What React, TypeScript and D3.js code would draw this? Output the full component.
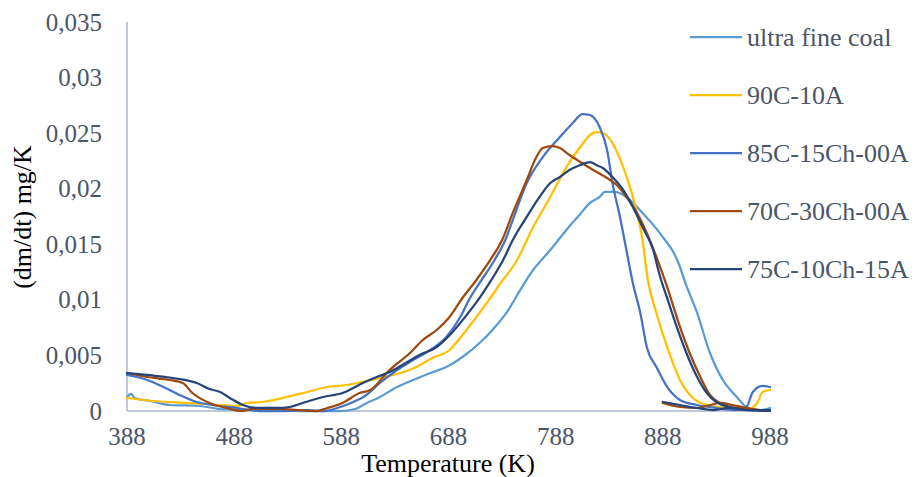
import React from "react";
import * as d3 from "d3";

// ---- data ----
const xTicks = [388, 488, 588, 688, 788, 888, 988];
const yTicks = [0, 0.005, 0.01, 0.015, 0.02, 0.025, 0.03, 0.035];
const yTickLabels = ["0", "0,005", "0,01", "0,015", "0,02", "0,025", "0,03", "0,035"];

const seriesNames = ["ultra fine coal", "90C-10A", "85C-15Ch-00A", "70C-30Ch-00A", "75C-10Ch-15A"];
const seriesColors = ["#5B9BD5", "#FFC000", "#4472C4", "#9E480E", "#264478"];

const ufcT = [388,392,395,410,428,456,475,512,549,587,601,610,624,640,655,671,686,701,717,729,742,755,767,783,798,811,820,829,834,843,854,869,885,904,908,920,932,944,957,966,971,980,988];
const ufcV = [0.00126,0.00153,0.00117,0.0009,0.00054,0.00045,0.00018,0.00009,0,0,0.00018,0.00063,0.00126,0.00216,0.00279,0.00342,0.00396,0.00486,0.00612,0.00729,0.00882,0.01089,0.01269,0.01449,0.01629,0.01773,0.01872,0.01926,0.01971,0.01971,0.01926,0.01782,0.01602,0.01296,0.01179,0.00882,0.00522,0.00279,0.00126,0.00036,0.00018,0.00009,0.00027];

const yelT = [388,412,444,475,491,500,515,537,556,575,593,603,624,643,658,673,689,701,714,727,736,752,767,783,798,811,820,826,832,841,851,860,869,874,882,892,904,916,929,950,966,976,981,988];
const yelV = [0.00117,0.0009,0.00072,0.00054,0.00045,0.00072,0.00081,0.00126,0.00171,0.00216,0.00234,0.00252,0.00297,0.00342,0.00396,0.00477,0.00549,0.00684,0.00846,0.01017,0.01143,0.01359,0.01656,0.01926,0.02195,0.02375,0.02483,0.0251,0.02501,0.02411,0.02195,0.01926,0.01539,0.01179,0.00882,0.00576,0.00279,0.00117,0.00054,0.00027,0.00009,0.00072,0.00171,0.00189];

const bluT = [388,407,422,437,453,468,491,512,537,556,571,587,599,610,624,640,655,671,686,699,708,717,731,741,748,761,776,792,804,813,820,829,836,841,848,854,860,867,873,882,892,904,920,938,957,966,972,981,988];
const bluV = [0.00324,0.00279,0.00216,0.00144,0.00081,0.00054,0.00027,0,0,0.00009,0,0.00036,0.00081,0.00135,0.00252,0.00369,0.00459,0.00549,0.00666,0.00846,0.01017,0.01152,0.01359,0.01539,0.01719,0.02051,0.02285,0.02465,0.02591,0.02672,0.02663,0.02555,0.02348,0.02051,0.01746,0.01449,0.01152,0.00882,0.00576,0.00396,0.00216,0.00099,0.00054,0.00027,0.00009,0.00036,0.00171,0.00225,0.00216];

const brnT = [388,407,428,440,449,465,481,496,505,531,547,565,575,589,605,615,633,652,664,677,689,701,714,727,738,748,761,770,776,785,792,801,811,823,836,845,854,864,873,882,892,904,913,923,932,941,951,963,976,988];
const brnV = [0.00342,0.00306,0.00279,0.00252,0.00162,0.00072,0.00027,0,0.00018,0.00018,0.00009,0,0.00027,0.00072,0.00162,0.00189,0.00369,0.00522,0.00639,0.00729,0.00846,0.01017,0.01179,0.01359,0.01539,0.01782,0.02078,0.02285,0.02366,0.02384,0.02366,0.02303,0.0224,0.02168,0.02096,0.02033,0.01926,0.01782,0.01602,0.01386,0.01116,0.00756,0.00522,0.00306,0.00144,0.00072,0.00036,0.00027,0.00009,0.00009];
const brnTailT = [888,904,920,932,941,953,966,979,988];
const brnTailV = [0.00072,0.00036,0.00027,0.00054,0.00072,0.00054,0.00027,0.00009,0];

const navT = [388,407,437,453,465,475,484,496,509,528,540,552,571,589,608,621,633,645,661,677,691,705,717,728,739,748,761,773,783,792,801,811,820,826,832,841,851,860,869,879,885,892,901,910,920,929,938,950,966,988];
const navV = [0.00342,0.00324,0.00288,0.00252,0.00198,0.00171,0.00117,0.00054,0.00027,0.00027,0.00036,0.00072,0.00126,0.00162,0.00252,0.00306,0.0035,0.00414,0.00504,0.00576,0.00702,0.00864,0.01017,0.01179,0.01359,0.01539,0.01746,0.01926,0.02051,0.02105,0.02168,0.02213,0.0224,0.02213,0.02186,0.02105,0.01989,0.01836,0.01656,0.01449,0.01224,0.01017,0.00756,0.00522,0.00306,0.00162,0.00081,0.00036,0.00009,0.00009];
const navTailT = [888,904,920,935,950,966,988];
const navTailV = [0.00081,0.00054,0.00027,0.00009,0.00027,0.00009,0];

const zip = (t: number[], v: number[]) => t.map((d, i) => [d, v[i]] as [number, number]);

const seriesSegments: [number, number][][][] = [
  [zip(ufcT, ufcV)],
  [zip(yelT, yelV)],
  [zip(bluT, bluV)],
  [zip(brnT, brnV), zip(brnTailT, brnTailV)],
  [zip(navT, navV), zip(navTailT, navTailV)],
];

const W = 915;
const H = 477;
const FONT = "'Liberation Serif', 'Times New Roman', Times, serif";
const TEXT_COLOR = "#4B5568";
const AXIS_COLOR = "#A9B6CB";

export default function App() {
  const x = d3.scaleLinear().domain([388, 988]).range([127, 770]);
  const y = d3.scaleLinear().domain([0, 0.035]).range([411, 22]);
  const line = d3
    .line<[number, number]>()
    .x((d) => x(d[0]))
    .y((d) => y(d[1]))
    .curve(d3.curveMonotoneX);

  const legendY0 = 37;
  const legendStep = 58;
  const textStyle = { fontFamily: FONT };

  return (
    <svg
      width={W}
      height={H}
      style={{ position: "absolute", left: 0, top: 0, background: "#fff", display: "block" }}
    >
      <rect x={0} y={0} width={W} height={H} fill="#fff" />
      {/* axes */}
      <line x1={x(388)} x2={x(388)} y1={y(0.035)} y2={y(0)} stroke={AXIS_COLOR} strokeWidth={1.5} />
      <line x1={x(388)} x2={x(988)} y1={y(0)} y2={y(0)} stroke={AXIS_COLOR} strokeWidth={1.5} />

      {/* y tick labels */}
      {yTicks.map((t, i) => (
        <text key={"yt" + i} x={102} y={y(t)} dy="0.34em" textAnchor="end" fontSize={25} fill={TEXT_COLOR} style={textStyle}>
          {yTickLabels[i]}
        </text>
      ))}
      {/* x tick labels */}
      {xTicks.map((t) => (
        <text key={"xt" + t} x={x(t)} y={445} textAnchor="middle" fontSize={25} fill={TEXT_COLOR} style={textStyle}>
          {String(t)}
        </text>
      ))}

      {/* axis titles */}
      <text x={448} y={472} textAnchor="middle" fontSize={26} fill="#000" style={textStyle}>
        Temperature (K)
      </text>
      <text transform="translate(31,217) rotate(-90)" textAnchor="middle" fontSize={26} fill="#000" style={textStyle}>
        (dm/dt) mg/K
      </text>

      {/* series */}
      {seriesSegments.map((segs, si) =>
        segs.map((seg, k) => (
          <path
            key={"s" + si + "-" + k}
            d={line(seg) || ""}
            fill="none"
            stroke={seriesColors[si]}
            strokeWidth={2.25}
            strokeLinejoin="round"
            strokeLinecap="round"
          />
        ))
      )}

      {/* legend */}
      {seriesNames.map((name, i) => (
        <g key={"lg" + i}>
          <line
            x1={690}
            x2={742}
            y1={legendY0 + i * legendStep}
            y2={legendY0 + i * legendStep}
            stroke={seriesColors[i]}
            strokeWidth={2.25}
          />
          <text x={747} y={legendY0 + i * legendStep + 9} fontSize={26} fill={TEXT_COLOR} style={textStyle}>
            {name}
          </text>
        </g>
      ))}
    </svg>
  );
}
